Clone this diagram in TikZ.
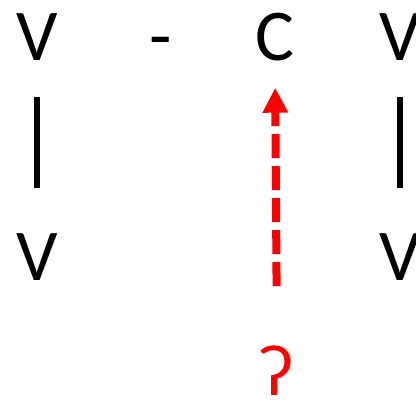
\documentclass[tikz,border=0pt]{standalone}
\usepackage{fontspec}
\setmainfont{Carlito}
\usetikzlibrary{arrows.meta}
\tikzset{seg/.style={inner sep=0pt, anchor=base, font=\fontsize{73}{80}\selectfont}}

\begin{document}
\begin{tikzpicture}[x=1pt, y=-1pt]
			\useasboundingbox (0,0) rectangle (416,400);
			\node[seg] (v1) at (37,60) {V};
			\node[seg] (hy) at (161,60) {-};
			\node[seg] (c) at (275,60) {C};
			\node[seg] (v2) at (400,60) {V};
			\node[seg] (v1b) at (37,280) {V};
			\node[seg] (v2b) at (400,280) {V};
			\node[seg, text=red] (gs) at (277,395) {ʔ};
			\draw[line width=6pt, shorten <=37pt, shorten >=45pt] (v1) -- (v1b);
			\draw[line width=6pt, shorten <=37pt, shorten >=45pt] (v2) -- (v2b);
			\draw[red, line width=8pt, dash pattern=on 24pt off 8pt, -{Triangle[width=24pt, length=25pt]}, shorten <=59pt, shorten >=27pt] (gs.north) -- (c.south);
		\end{tikzpicture}
\end{document}
